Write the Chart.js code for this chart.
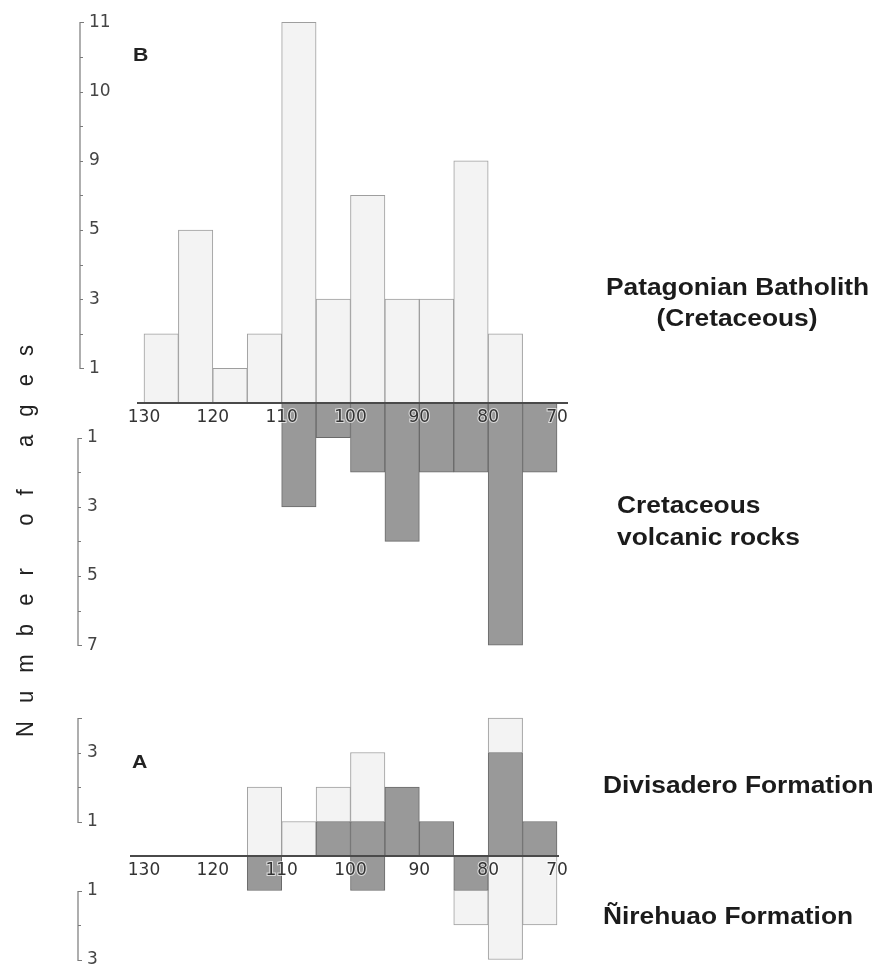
<!DOCTYPE html>
<html><head><meta charset="utf-8">
<script src="https://cdn.jsdelivr.net/npm/chart.js@4.4.1/dist/chart.umd.min.js"></script>
<style>
html,body{margin:0;padding:0;background:#fff;}
#wrap{position:relative;width:879px;height:965px;overflow:hidden;background:#fff;}
#boxB{position:absolute;left:0;top:0;width:879px;height:760px;}
#boxA{position:absolute;left:0;top:690px;width:879px;height:275px;}
canvas{display:block;}
</style></head><body>
<div id="wrap">
  <div id="boxB"><canvas id="cB" width="879" height="760"></canvas></div>
  <div id="boxA"><canvas id="cA" width="879" height="275"></canvas></div>
</div>
<script>
// ---- data: 5 Ma bins, old -> young ----
const bins = ['130-125','125-120','120-115','115-110','110-105','105-100','100-95','95-90','90-85','85-80','80-75','75-70'];
const binCenters = [127.5,122.5,117.5,112.5,107.5,102.5,97.5,92.5,87.5,82.5,77.5,72.5];
const ageTicks = [130,120,110,100,90,80,70];
const ageTickLabels = ['130','120','110','100','90','80','70'];

// Panel B
const batholith = [2,5,1,2,11,3,6,3,3,7,2,0];      // Patagonian Batholith (up)
const volcanic  = [0,0,0,0,3,1,2,4,2,2,7,2];       // Cretaceous volcanic rocks (down)
// Panel A
const divisaderoDark  = [0,0,0,0,0,1,1,2,1,0,3,1];
const divisaderoLight = [0,0,0,2,1,1,2,0,0,0,1,0];
const nirehuaoDark    = [0,0,0,1,0,0,1,0,0,1,0,0];
const nirehuaoLight   = [0,0,0,0,0,0,0,0,0,1,3,2];

// count axes: tick positions and their printed labels
const batholithTickValues = [1,3,5,7,9,11];
const batholithTickLabels = ['1','3','5','9','10','11'];
const volcanicTickValues  = [1,3,5,7];
const volcanicTickLabels  = ['1','3','5','7'];
const divisaderoTickValues = [1,3];
const divisaderoTickLabels = ['1','3'];
const nirehuaoTickValues  = [1,3];
const nirehuaoTickLabels  = ['1','3'];

// ---- helpers ----
const pts = (arr, sign) => arr.map((v, i) => ({x: binCenters[i], y: v ? sign * v : null}));
const LIGHT = {backgroundColor:'#f3f3f3', borderColor:'#9e9e9e', borderWidth:1};
const DARK  = {backgroundColor:'#999999', borderColor:'#6a6a6a', borderWidth:1};

const decor = {
  id: 'decor',
  afterDraw(chart, args, o) {
    const ctx = chart.ctx, ys = chart.scales.y;
    ctx.save();
    (o.brackets || []).forEach(b => {
      const s = b.sign, x = b.x;
      const p0 = Math.round(ys.getPixelForValue(s * b.from)) + 0.5;
      const p1 = Math.round(ys.getPixelForValue(s * b.to)) + 0.5;
      ctx.strokeStyle = '#7a7a7a'; ctx.lineWidth = 1.2;
      ctx.beginPath();
      ctx.moveTo(x + 4, p0); ctx.lineTo(x, p0); ctx.lineTo(x, p1); ctx.lineTo(x + 4, p1);
      for (let v = b.from + 1; v < b.to; v++) {
        const py = Math.round(ys.getPixelForValue(s * v)) + 0.5;
        ctx.moveTo(x, py); ctx.lineTo(x + 3, py);
      }
      ctx.stroke();
      ctx.fillStyle = '#444'; ctx.font = '17px "DejaVu Sans"';
      ctx.textAlign = 'left'; ctx.textBaseline = 'middle';
      b.values.forEach((v, i) => ctx.fillText(b.labels[i], x + 9, ys.getPixelForValue(s * v)));
    });
    (o.texts || []).forEach(t => {
      ctx.save();
      ctx.fillStyle = t.color || '#1b1b1b';
      ctx.font = t.font; ctx.textAlign = t.align || 'left'; ctx.textBaseline = 'alphabetic';
      ctx.translate(t.x, t.y); ctx.scale(t.sx || 1, 1);
      ctx.fillText(t.text, 0, 0);
      ctx.restore();
    });
    if (o.vtitle) {
      const t = o.vtitle;
      ctx.save();
      ctx.fillStyle = '#222'; ctx.font = t.font; ctx.textAlign = 'left'; ctx.textBaseline = 'alphabetic';
      ctx.translate(t.x, t.y); ctx.rotate(-Math.PI / 2); ctx.scale(1, 1.12);
      const chars = [...t.text];
      const widths = chars.map(c => ctx.measureText(c).width);
      const natural = widths.reduce((a, b) => a + b, 0);
      const gap = (t.length - natural) / (chars.length - 1);
      let cx = 0;
      chars.forEach((c, i) => { ctx.fillText(c, cx, 0); cx += widths[i] + gap; });
      ctx.restore();
    }
    ctx.restore();
  }
};

const xScale = (min, max) => ({
  type: 'linear', reverse: true, min, max, stacked: true, offset: false, position: {y: 0},
  grid: {display: false, drawTicks: false, offset: false},
  border: {display: true, color: '#4a4a4a', width: 2, z: 1},
  afterBuildTicks: s => { s.ticks = ageTicks.map(v => ({value: v})); },
  ticks: {z: 1, padding: 4, color: '#333', font: {family: 'DejaVu Sans', size: 17},
          textStrokeColor: 'rgba(255,255,255,0.65)', textStrokeWidth: 2,
          callback: v => ageTickLabels[ageTicks.indexOf(v)]}
});

const common = {
  responsive: false, animation: false, devicePixelRatio: 1,
  categoryPercentage: 1, barPercentage: 1,
  plugins: {legend: {display: false}, tooltip: {enabled: false}, title: {display: false}}
};

const RIGHT = 'bold 23.5px "Liberation Sans"';

new Chart(document.getElementById('cB'), {
  type: 'bar',
  data: {datasets: [
    {label: 'Patagonian Batholith (Cretaceous)', data: pts(batholith, 1), ...LIGHT},
    {label: 'Cretaceous volcanic rocks', data: pts(volcanic, -1), ...DARK}
  ]},
  options: {...common,
    layout: {padding: {left: 138, right: 312, top: 5.1, bottom: 97.5}},
    scales: {x: xScale(68.55, 130.87), y: {display: false, min: -7.5, max: 11.5, stacked: true}},
    plugins: {...common.plugins, decor: {
      brackets: [
        {x: 80, sign: 1, from: 1, to: 11, values: batholithTickValues, labels: batholithTickLabels},
        {x: 78, sign: -1, from: 1, to: 7, values: volcanicTickValues, labels: volcanicTickLabels}
      ],
      texts: [
        {text: 'B', x: 133, y: 61, font: 'bold 19px "Liberation Sans"', sx: 1.12, color: '#222'},
        {text: 'Patagonian Batholith', x: 606, y: 295, font: RIGHT, sx: 1.12},
        {text: '(Cretaceous)', x: 737, y: 326, font: RIGHT, sx: 1.12, align: 'center'},
        {text: 'Cretaceous', x: 617, y: 513, font: RIGHT, sx: 1.12},
        {text: 'volcanic rocks', x: 617, y: 545, font: RIGHT, sx: 1.12}
      ],
      vtitle: {text: 'Number of ages', x: 33, y: 737, length: 392, font: '22px "Liberation Sans"'}
    }}
  },
  plugins: [decor]
});

new Chart(document.getElementById('cA'), {
  type: 'bar',
  data: {datasets: [
    {label: 'Divisadero Formation (dark)', data: pts(divisaderoDark, 1), ...DARK},
    {label: 'Divisadero Formation (light)', data: pts(divisaderoLight, 1), ...LIGHT},
    {label: 'Ñirehuao Formation (dark)', data: pts(nirehuaoDark, -1), ...DARK},
    {label: 'Ñirehuao Formation (light)', data: pts(nirehuaoLight, -1), ...LIGHT}
  ]},
  options: {...common,
    layout: {padding: {left: 131, right: 321, top: 17.65, bottom: 2.05}},
    scales: {x: xScale(69.855, 131.89), y: {display: false, min: -3.1, max: 4.3, stacked: true}},
    plugins: {...common.plugins, decor: {
      brackets: [
        {x: 78, sign: 1, from: 1, to: 4, values: divisaderoTickValues, labels: divisaderoTickLabels},
        {x: 78, sign: -1, from: 1, to: 3, values: nirehuaoTickValues, labels: nirehuaoTickLabels}
      ],
      texts: [
        {text: 'A', x: 132, y: 78, font: 'bold 19px "Liberation Sans"', sx: 1.12, color: '#222'},
        {text: 'Divisadero Formation', x: 603, y: 103, font: RIGHT, sx: 1.12},
        {text: 'Ñirehuao Formation', x: 603, y: 234, font: RIGHT, sx: 1.12}
      ]
    }}
  },
  plugins: [decor]
});
</script>
</body></html>
